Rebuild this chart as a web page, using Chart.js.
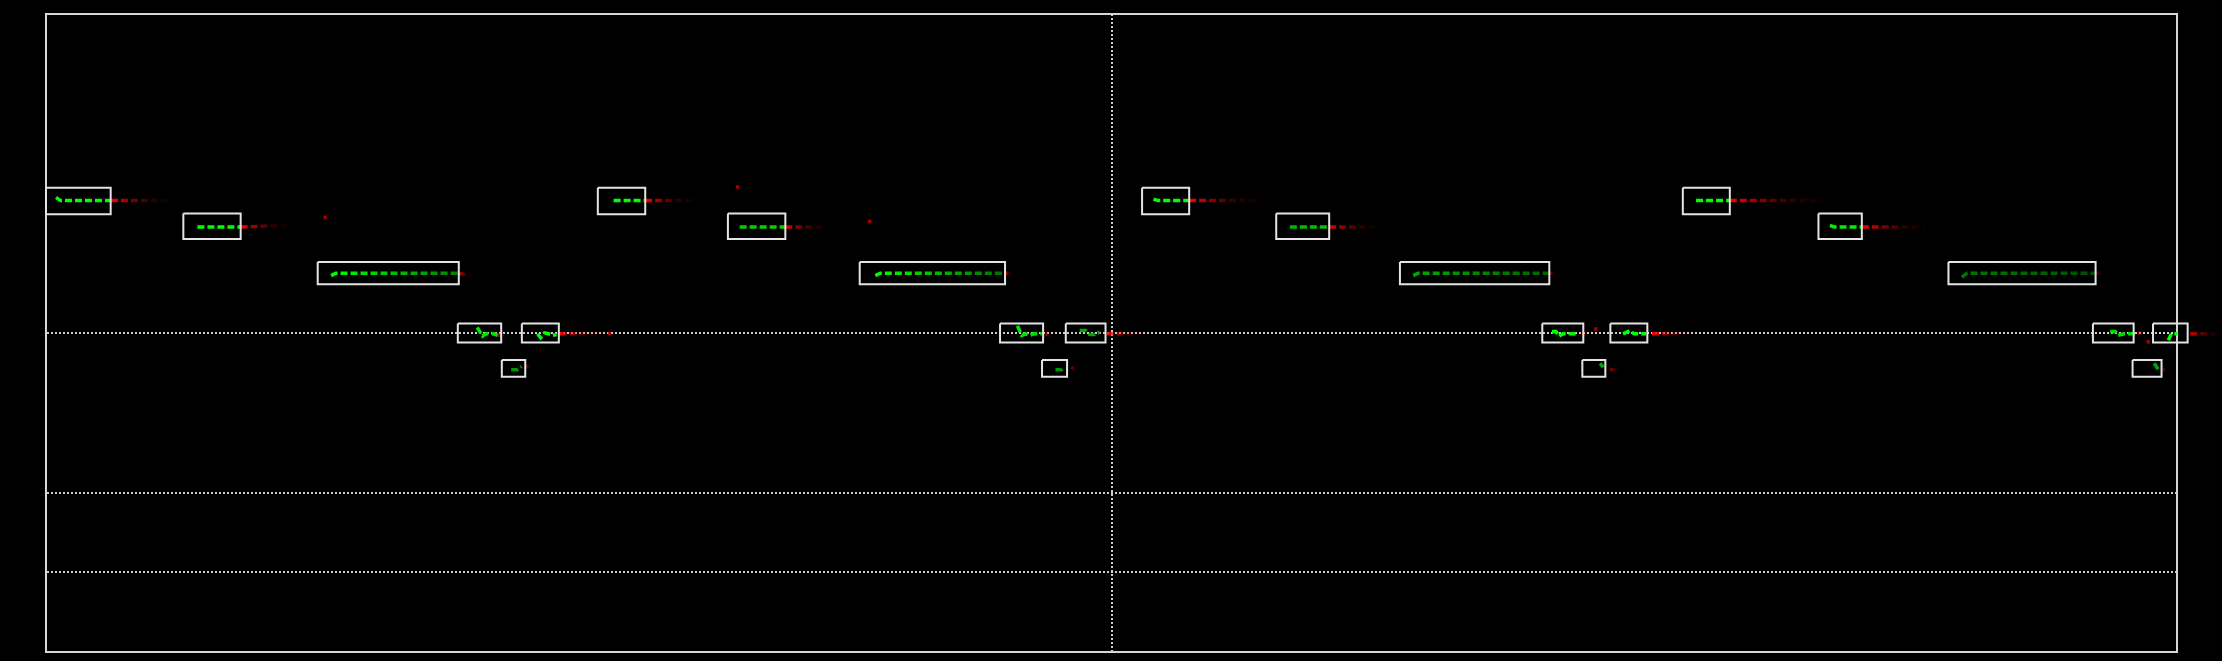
<!DOCTYPE html>
<html>
<head>
<meta charset="utf-8">
<script src="https://cdn.jsdelivr.net/npm/chart.js@4/dist/chart.umd.min.js"></script>
<style>
  html, body { margin: 0; padding: 0; background: #000; }
  canvas { display: block; }
</style>
</head>
<body>
<canvas id="grafico" width="2222" height="661"></canvas>
<script>
// cajas de seguimiento (x en 0..200, y en 0..8)
const boxLeft   = [0, 12.89, 25.50, 38.65, 44.66, 42.78, 51.79, 64.00, 76.37, 89.54, 93.48, 95.71,
                   102.87, 115.46, 127.07, 140.43, 146.82, 144.19, 153.62, 166.35, 178.55, 192.11, 197.75, 195.83];
const boxRight  = [6.07, 18.27, 38.74, 42.72, 48.13, 44.98, 56.24, 69.39, 90.01, 93.58, 95.83, 99.44,
                   107.29, 120.43, 141.09, 144.28, 150.29, 146.35, 158.03, 170.42, 192.36, 195.93, 201.00, 198.55];
const boxTop    = [5.82, 5.50, 4.89, 4.12, 4.12, 3.66, 5.82, 5.50, 4.89, 4.12, 3.66, 4.12,
                   5.82, 5.50, 4.89, 4.12, 4.12, 3.66, 5.82, 5.50, 4.89, 4.12, 4.12, 3.66];
const boxBottom = [5.49, 5.18, 4.61, 3.88, 3.88, 3.45, 5.49, 5.18, 4.61, 3.88, 3.45, 3.88,
                   5.49, 5.18, 4.61, 3.88, 3.88, 3.45, 5.49, 5.18, 4.61, 3.88, 3.88, 3.45];

// trayectoria observada (verde)
const greenPaths = [
  [[0.94, 5.70], [1.35, 5.66], [6.10, 5.66]],
  [[14.21, 5.33], [18.27, 5.33]],
  [[26.76, 4.72], [27.20, 4.75], [38.74, 4.75]],
  [[40.47, 4.07], [40.97, 3.96], [41.25, 3.99], [41.63, 3.99], [42.00, 3.99], [42.38, 3.97]],
  [[46.13, 3.99], [46.42, 3.94], [46.79, 4.00], [47.17, 3.99], [47.54, 3.97], [47.92, 3.98]],
  [[43.66, 3.54], [44.25, 3.54], [44.63, 3.58]],
  [[53.27, 5.66], [56.24, 5.66]],
  [[65.10, 5.33], [69.39, 5.33]],
  [[77.84, 4.72], [78.30, 4.75], [90.01, 4.75]],
  [[91.17, 4.09], [91.57, 3.97], [91.95, 3.99], [92.33, 3.97], [92.70, 3.99], [93.08, 3.99], [93.46, 3.99]],
  [[94.74, 3.54], [95.33, 3.54], [95.52, 3.58]],
  [[97.02, 4.03], [97.58, 4.03], [97.96, 3.98], [98.43, 3.98], [98.90, 4.01]],
  [[103.94, 5.68], [104.35, 5.66], [107.29, 5.66]],
  [[116.74, 5.33], [120.43, 5.33]],
  [[128.32, 4.72], [128.76, 4.75], [141.09, 4.75]],
  [[141.34, 4.02], [141.72, 4.02], [142.00, 3.96], [142.38, 3.99], [142.75, 3.99], [143.22, 3.99], [143.60, 3.99]],
  [[148.01, 3.99], [148.67, 4.03], [149.05, 3.99], [149.61, 3.99], [150.17, 3.99]],
  [[145.86, 3.62], [146.15, 3.57]],
  [[154.86, 5.66], [158.03, 5.66]],
  [[167.42, 5.35], [167.82, 5.33], [170.42, 5.33]],
  [[179.81, 4.70], [180.31, 4.75], [192.36, 4.75]],
  [[193.73, 4.02], [194.20, 4.02], [194.48, 3.97], [195.05, 3.99], [195.42, 3.99], [196.08, 3.99]],
  [[199.19, 3.91], [199.47, 3.99], [200.03, 3.99], [200.50, 3.99]],
  [[197.87, 3.62], [198.25, 3.54]]
];

// prediccion (rojo)
const redPaths = [
  [[6.10, 5.66], [11.86, 5.66]],
  [[18.27, 5.33], [23.13, 5.35]],
  [[38.74, 4.75], [39.09, 4.74], [39.60, 4.72], [40.03, 4.72]],
  [[42.38, 3.97], [42.94, 3.98], [43.23, 4.01]],
  [[48.20, 3.99], [52.89, 3.99]],
  [[44.98, 3.58], [45.57, 3.58]],
  [[56.24, 5.66], [61.06, 5.66]],
  [[69.39, 5.33], [73.55, 5.33]],
  [[90.01, 4.75], [90.60, 4.75]],
  [[93.83, 3.99], [94.40, 3.96]],
  [[96.27, 3.57], [96.65, 3.54]],
  [[99.56, 3.99], [103.60, 3.99]],
  [[107.29, 5.66], [114.21, 5.66]],
  [[120.43, 5.33], [125.19, 5.33]],
  [[141.09, 4.75], [141.63, 4.75]],
  [[144.16, 3.99], [144.72, 3.99]],
  [[150.73, 3.99], [154.58, 3.99]],
  [[146.81, 3.54], [147.73, 3.54]],
  [[158.03, 5.66], [167.16, 5.66]],
  [[170.42, 5.33], [176.56, 5.33]],
  [[192.36, 4.75], [193.00, 4.75]],
  [[196.36, 3.99], [196.92, 4.02]],
  [[201.25, 3.99], [204.25, 3.99]],
  [[198.72, 3.54], [199.00, 3.54]]
];

// puntos sueltos
const strayX = [26.20, 64.91, 77.31, 52.89, 145.45, 197.30];
const strayY = [5.45, 5.83, 5.40, 3.99, 4.05, 3.89];

// lineas de referencia
const xGrid = [100];
const yGrid = [1, 2, 4];

// tonos (canal verde inicio/fin, alfa del rojo)
const greenFrom = [255, 255, 255, 230, 255, 150, 255, 210, 255, 230, 150, 170,
                   255, 180, 170, 255, 255, 170, 255, 240, 120, 220, 255, 170];
const greenTo   = [255, 255, 130, 230, 255, 150, 255, 210, 110, 230, 150, 170,
                   255, 200, 100, 255, 255, 170, 255, 240, 80, 220, 255, 170];
const redFrom   = [1, 1, 0.8, 0.8, 0.9, 0.6, 1, 0.9, 0.8, 0.8, 0.6, 0.9,
                   1, 0.9, 0.7, 0.9, 1, 0.6, 1, 1, 0.5, 0.8, 0.8, 0.6];

function gradiente(chart, x0, x1, paradas) {
  const escala = chart.scales.x;
  if (!escala) return paradas[0][1];
  const p0 = escala.getPixelForValue(x0);
  const p1 = escala.getPixelForValue(x1);
  if (!isFinite(p0) || !isFinite(p1) || p1 - p0 < 1) return paradas[0][1];
  const g = chart.ctx.createLinearGradient(p0, 0, p1, 0);
  paradas.forEach(([pos, color]) => g.addColorStop(pos, color));
  return g;
}

const cajas = [];
boxLeft.forEach((x0, i) => {
  const x1 = boxRight[i], y0 = boxTop[i], y1 = boxBottom[i];
  cajas.push({x: x0, y: y0}, {x: x1, y: y0}, {x: x1, y: y1}, {x: x0, y: y1}, {x: x0, y: y0}, {x: null, y: null});
});

const datasets = [{
  data: cajas,
  showLine: true,
  borderColor: "#e4e4e4",
  borderWidth: 2,
  pointRadius: 0,
  spanGaps: false,
  tension: 0,
  clip: false
}];

greenPaths.forEach((camino, i) => {
  const x0 = camino[0][0], x1 = camino[camino.length - 1][0];
  datasets.push({
    data: camino.map(([x, y]) => ({x, y})),
    showLine: true,
    borderWidth: 3.5,
    borderDash: [7, 3],
    borderCapStyle: "butt",
    pointRadius: 0,
    tension: 0,
    clip: false,
    borderColor: ctx => gradiente(ctx.chart, x0, x1,
      [[0, `rgb(0,${greenFrom[i]},0)`], [1, `rgb(0,${greenTo[i]},0)`]])
  });
});

redPaths.forEach((camino, i) => {
  const x0 = camino[0][0], x1 = camino[camino.length - 1][0];
  const a = redFrom[i];
  datasets.push({
    data: camino.map(([x, y]) => ({x, y})),
    showLine: true,
    borderWidth: 3.5,
    borderDash: [7, 3],
    borderCapStyle: "butt",
    pointRadius: 0,
    tension: 0,
    clip: false,
    borderColor: ctx => gradiente(ctx.chart, x0, x1, [
      [0, `rgba(255,0,0,${a})`],
      [0.3, `rgba(255,0,0,${a * 0.55})`],
      [0.6, `rgba(255,0,0,${a * 0.2})`],
      [1, "rgba(255,0,0,0.02)"]
    ])
  });
});

datasets.push({
  data: strayX.map((x, i) => ({x, y: strayY[i]})),
  showLine: false,
  pointStyle: "rect",
  pointRadius: 2.5,
  borderWidth: 0,
  backgroundColor: "rgba(200,0,0,0.8)",
  clip: false
});

const grid = {
  display: true,
  color: "rgba(215,215,215,0.95)",
  lineWidth: 2,
  drawTicks: false
};
const borde = { display: true, color: "#d6d6d6", width: 2, dash: [2, 2] };

new Chart(document.getElementById("grafico").getContext("2d"), {
  type: "scatter",
  data: { datasets },
  options: {
    responsive: false,
    animation: false,
    devicePixelRatio: 1,
    layout: { padding: { left: 46, right: 45, top: 14, bottom: 9 } },
    plugins: { legend: { display: false }, tooltip: { enabled: false } },
    scales: {
      x: {
        type: "linear", min: 0, max: 200,
        ticks: { display: false },
        grid, border: borde,
        afterBuildTicks: s => { s.ticks = xGrid.map(v => ({value: v})); }
      },
      y: {
        type: "linear", min: 0, max: 8,
        ticks: { display: false },
        grid, border: borde,
        afterBuildTicks: s => { s.ticks = yGrid.map(v => ({value: v})); }
      },
      xArriba: {
        type: "linear", position: "top", min: 0, max: 200,
        ticks: { display: false },
        grid: { display: false, drawTicks: false },
        border: { display: true, color: "#d6d6d6", width: 2 }
      },
      yDerecha: {
        type: "linear", position: "right", min: 0, max: 8,
        ticks: { display: false },
        grid: { display: false, drawTicks: false },
        border: { display: true, color: "#d6d6d6", width: 2 }
      }
    }
  }
});
</script>
</body>
</html>
